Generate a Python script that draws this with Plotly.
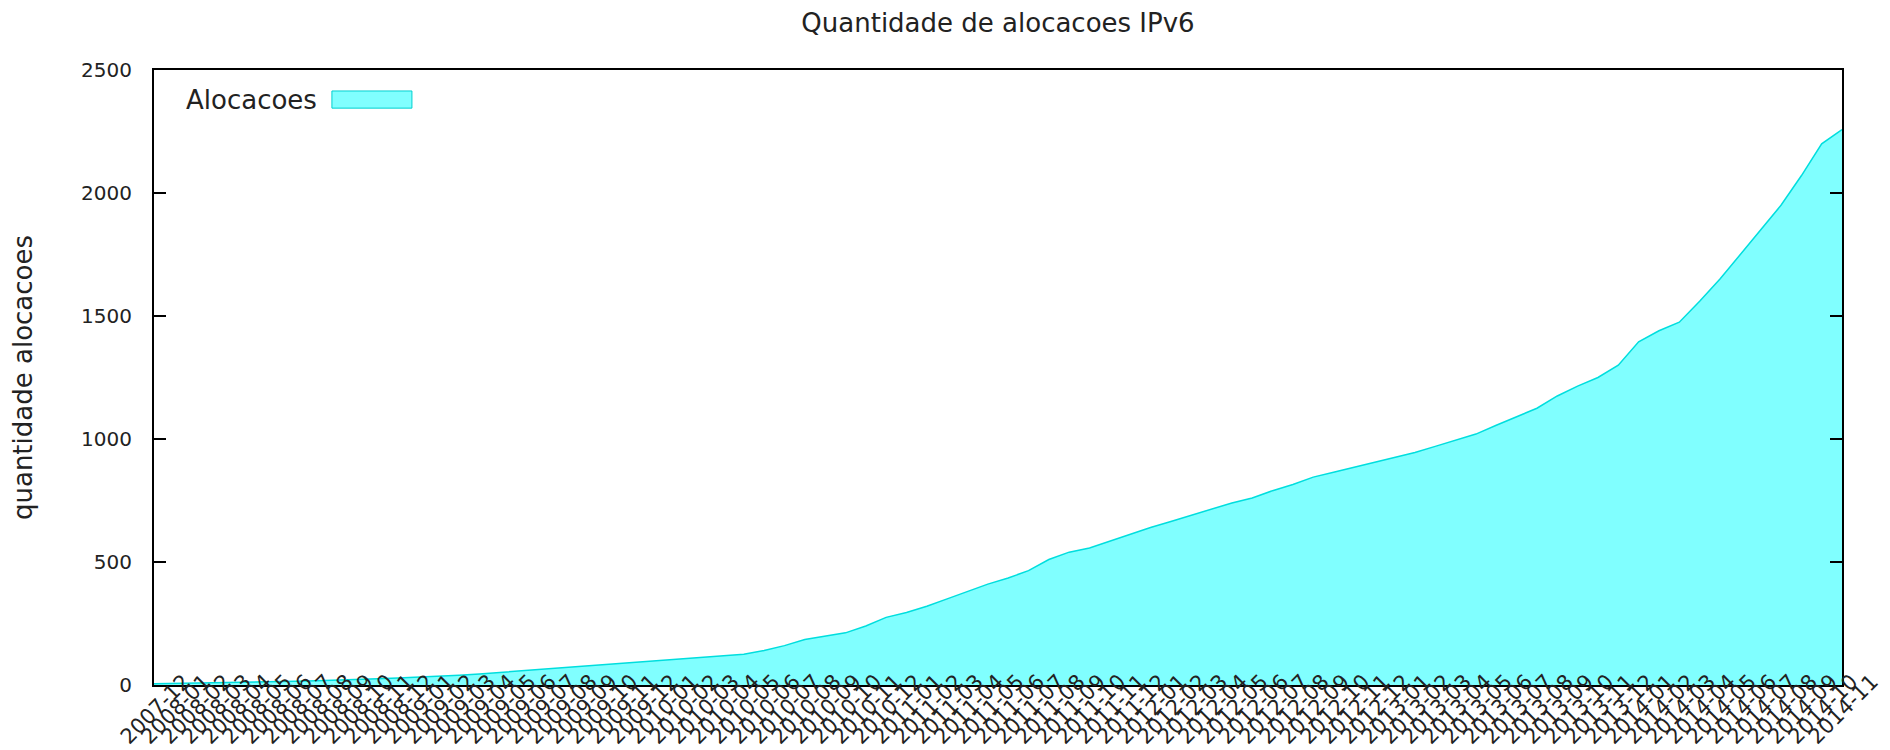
import plotly.graph_objects as go

# Monthly labels, 2007-12 .. 2014-11
months = []
y, m = 2007, 12
for _ in range(84):
    months.append(f"{y}-{m:02d}")
    m += 1
    if m > 12:
        m = 1
        y += 1

alocacoes = [
    5, 6, 8, 9, 10, 12, 13, 15, 17, 19,
    22, 25, 28, 31, 35, 40, 45, 51, 57, 62,
    68, 74, 80, 86, 92, 98, 104, 110, 118, 125,
    140, 160, 185, 200, 212, 240, 275, 295, 320, 350,
    380, 410, 435, 465, 510, 540, 557, 585, 610, 640,
    665, 690, 715, 740, 760, 790, 815, 845, 865, 885,
    905, 925, 945, 970, 995, 1020, 1056, 1090, 1125, 1175,
    1215, 1250, 1300, 1395, 1440, 1475, 1560, 1650, 1750, 1850,
    1950, 2070, 2200, 2258,
]

idx = list(range(len(months)))

FONT = "DejaVu Sans"
TXT = "#222222"

fig = go.Figure()
fig.add_trace(go.Scatter(
    x=idx, y=alocacoes, mode="lines", fill="tozeroy",
    fillcolor="#80ffff", line=dict(color="#00dede", width=1.5),
    name="Alocacoes", showlegend=False,
))

fig.update_layout(
    width=1890, height=750,
    margin=dict(l=146, r=56, t=62, b=73),
    paper_bgcolor="white", plot_bgcolor="white",
    font=dict(family=FONT, size=20, color=TXT),
    title=dict(text="Quantidade de alocacoes IPv6", x=0.5, xref="paper",
               y=1 - 15 / 750, yanchor="middle", xanchor="center",
               font=dict(family=FONT, size=26, color=TXT)),
    xaxis=dict(range=[0, 83], tickmode="array", tickvals=idx, ticktext=months,
               tickangle=-45, showgrid=False, zeroline=False, automargin=False,
               showline=True, linecolor="black", linewidth=2, mirror=True,
               ticks="", tickfont=dict(size=21, color=TXT),
               ticklabelshift=30, ticklabelstandoff=-26),
    yaxis=dict(range=[0, 2500], tickvals=[0, 500, 1000, 1500, 2000, 2500],
               showgrid=False, zeroline=False, automargin=False,
               showline=True, linecolor="black", linewidth=2, mirror="allticks",
               ticks="inside", ticklen=12, tickcolor="black", tickwidth=1.5,
               tickfont=dict(size=20, color=TXT), ticklabelstandoff=16,
               title=dict(text="quantidade alocacoes", standoff=42,
                          font=dict(size=26, color=TXT))),
)

fig.add_annotation(text="Alocacoes", xref="paper", yref="paper",
                   x=0.0178, y=0.951, xanchor="left", yanchor="middle",
                   showarrow=False, font=dict(family=FONT, size=26, color=TXT))
fig.add_shape(type="rect", xref="paper", yref="paper",
              x0=0.1054, x1=0.1528, y0=0.938, y1=0.9659,
              fillcolor="#80ffff", line=dict(color="#00d0d0", width=1))

fig.write_html("out.html")
